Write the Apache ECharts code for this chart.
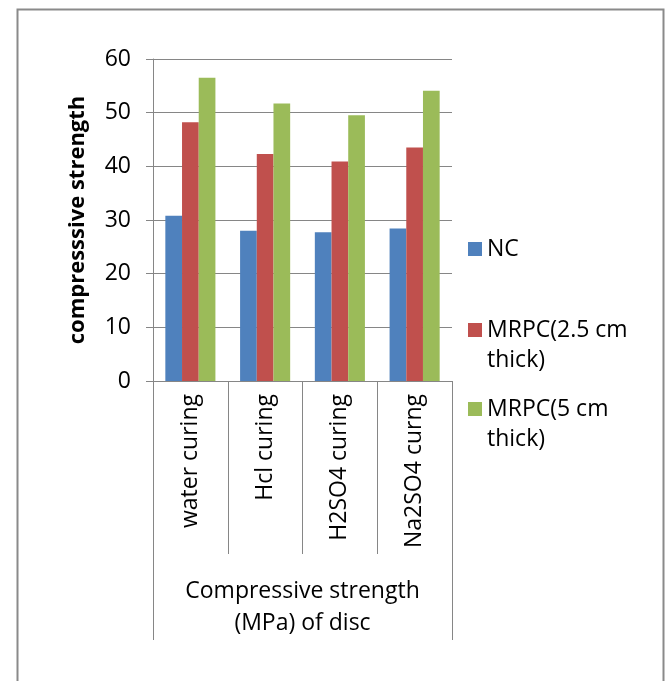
<!DOCTYPE html>
<html>
<head>
<meta charset="utf-8">
<script src="https://cdn.jsdelivr.net/npm/echarts@6/dist/echarts.min.js"></script>
<style>html,body{margin:0;padding:0;background:#fff}#c{width:667px;height:681px}</style>
</head>
<body>
<div id="c"></div>
<script>
var categories = ['water curing', 'Hcl curing', 'H2SO4 curing', 'Na2SO4 curng'];
var groupLabel = ['Compressive strength\n(MPa) of disc'];
var seriesNames = ['NC', 'MRPC(2.5 cm thick)', 'MRPC(5 cm thick)'];
var ncValues = [30.8, 28.0, 27.7, 28.4];
var mrpc25Values = [48.2, 42.3, 40.9, 43.5];
var mrpc5Values = [56.5, 51.7, 49.5, 54.1];
var yTicks = { min: 0, max: 60, interval: 10 };

var FONT = 'Open Sans';
var FS = 23;
var colors = ['#4F81BD', '#C0504D', '#9BBB59'];
var chart = echarts.init(document.getElementById('c'));

function legendFmt(name) {
  if (name === 'NC') return name;
  return '\n' + name.replace(' thick)', '\nthick)');
}
function legendAt(name, top) {
  return {
    data: [name], orient: 'vertical', left: 468, top: top, padding: 0,
    itemWidth: 14, itemHeight: 14, itemGap: 8, icon: 'rect',
    formatter: legendFmt, selectedMode: false,
    textStyle: { fontFamily: FONT, fontSize: FS, color: '#000', lineHeight: 30 }
  };
}

chart.setOption({
  animation: false,
  color: colors,
  graphic: [{
    type: 'rect', left: 15, top: 7, silent: true,
    shape: { width: 646, height: 700 },
    style: { fill: 'none', stroke: '#8a8a8a', lineWidth: 2 }
  }],
  legend: [
    legendAt(seriesNames[0], 234),
    legendAt(seriesNames[1], 285),
    legendAt(seriesNames[2], 364)
  ],
  grid: { left: 153, right: 215, top: 59, bottom: 300, containLabel: false },
  xAxis: [{
    type: 'category', data: categories, position: 'bottom',
    axisLine: { lineStyle: { color: '#868686', width: 1 } },
    axisTick: { show: true, length: 173, lineStyle: { color: '#868686' } },
    axisLabel: { rotate: 90, margin: 13, fontFamily: FONT, fontSize: FS, color: '#000' },
    splitLine: { show: false }
  }, {
    type: 'category', data: groupLabel, position: 'bottom',
    axisLine: { show: false },
    axisTick: { show: true, length: 259, lineStyle: { color: '#868686' } },
    axisLabel: { margin: 194, fontFamily: FONT, fontSize: FS, color: '#000', lineHeight: 32 },
    splitLine: { show: false }
  }],
  yAxis: {
    type: 'value', min: yTicks.min, max: yTicks.max, interval: yTicks.interval,
    name: 'compresssive strength', nameLocation: 'middle', nameRotate: 90, nameGap: 64,
    nameTextStyle: { fontFamily: FONT, fontSize: 22, fontWeight: 'bold', color: '#000' },
    axisLine: { show: true, lineStyle: { color: '#868686' } },
    axisTick: { show: true, length: 7, lineStyle: { color: '#868686' } },
    axisLabel: { margin: 22, fontFamily: FONT, fontSize: FS, color: '#000' },
    splitLine: { show: true, lineStyle: { color: '#868686', width: 1 } }
  },
  series: [
    { name: seriesNames[0], type: 'bar', xAxisIndex: 0, data: ncValues, barGap: '0%', barCategoryGap: '33%' },
    { name: seriesNames[1], type: 'bar', xAxisIndex: 0, data: mrpc25Values, barGap: '0%', barCategoryGap: '33%' },
    { name: seriesNames[2], type: 'bar', xAxisIndex: 0, data: mrpc5Values, barGap: '0%', barCategoryGap: '33%' }
  ]
});
</script>
</body>
</html>
